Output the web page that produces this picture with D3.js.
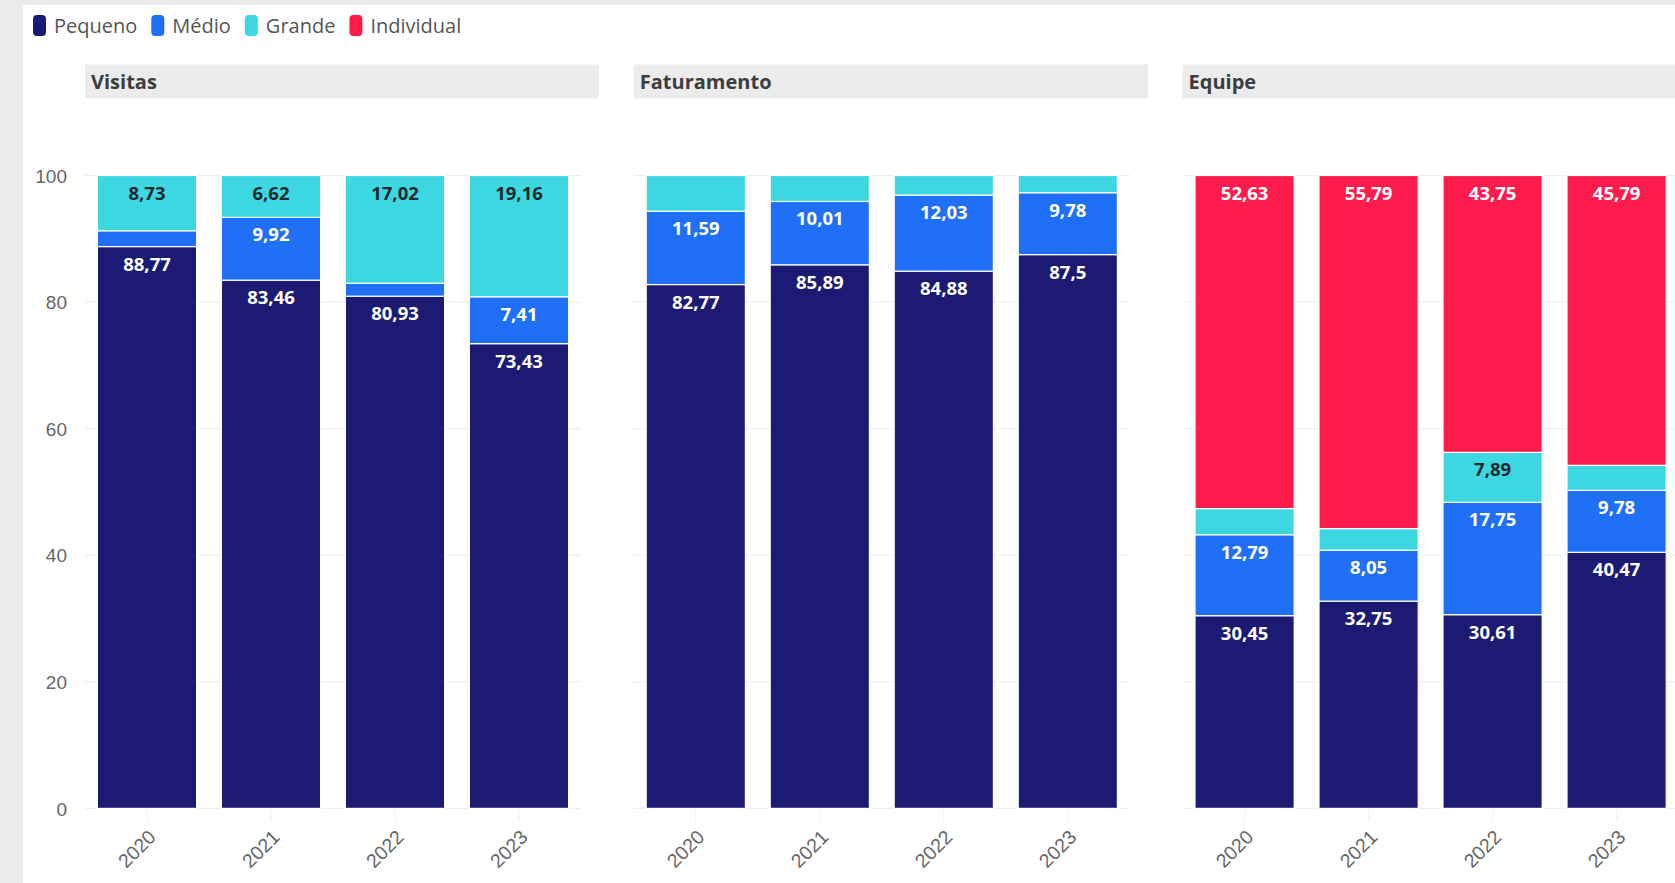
<!DOCTYPE html>
<html>
<head>
<meta charset="utf-8">
<script src="https://cdn.jsdelivr.net/npm/d3@7"></script>
<style>
  html, body { margin: 0; padding: 0; background: #ebebeb; overflow: hidden; }
  svg { display: block; font-family: "Open Sans", "Noto Sans", sans-serif; }
</style>
</head>
<body>
<svg id="chart" width="1675" height="883"></svg>
<script>
// Categories and series
const years = ["2020", "2021", "2022", "2023"];
const seriesNames = ["Pequeno", "Médio", "Grande", "Individual"];
const seriesColors = ["#1c1a73", "#1f6ff7", "#3cd7e1", "#ff1c4c"];
const panelTitles = ["Visitas", "Faturamento", "Equipe"];
const yTicks = [0, 20, 40, 60, 80, 100];

// Shares (%) per panel and size class
const visitasPequeno = [88.77, 83.46, 80.93, 73.43];
const visitasMedio = [2.50, 9.92, 2.05, 7.41];
const visitasGrande = [8.73, 6.62, 17.02, 19.16];
const visitasIndividual = [0, 0, 0, 0];

const faturamentoPequeno = [82.77, 85.89, 84.88, 87.5];
const faturamentoMedio = [11.59, 10.01, 12.03, 9.78];
const faturamentoGrande = [5.64, 4.10, 3.09, 2.72];
const faturamentoIndividual = [0, 0, 0, 0];

const equipePequeno = [30.45, 32.75, 30.61, 40.47];
const equipeMedio = [12.79, 8.05, 17.75, 9.78];
const equipeGrande = [4.13, 3.41, 7.89, 3.96];
const equipeIndividual = [52.63, 55.79, 43.75, 45.79];

const panelSeries = [
  [visitasPequeno, visitasMedio, visitasGrande, visitasIndividual],
  [faturamentoPequeno, faturamentoMedio, faturamentoGrande, faturamentoIndividual],
  [equipePequeno, equipeMedio, equipeGrande, equipeIndividual]
];

// Layout
const W = 1675, H = 883;
const panelLeft0 = 85, panelStep = 548.8, plotW = 496, stripW = 514;
const stripTop = 64.5, stripH = 34;
const labelMin = 6;

const svg = d3.select("#chart");
svg.append("rect").attr("width", W).attr("height", H).attr("fill", "#ebebeb");
svg.append("rect").attr("x", 23).attr("y", 5).attr("width", W - 23).attr("height", H - 5).attr("fill", "#ffffff");

const color = d3.scaleOrdinal().domain(seriesNames).range(seriesColors);
const y = d3.scaleLinear().domain([0, 100]).range([808.4, 175.5]);
const yBotVal = -1.9;
const x = d3.scaleBand().domain(years).range([0, plotW]).paddingInner(0.2).paddingOuter(0.1);

const fmt = v => String(v).replace(".", ",");

// Legend
const legend = svg.append("g").attr("class", "legend");
let lx = 33;
seriesNames.forEach(name => {
  const g = legend.append("g");
  g.append("rect").attr("x", lx).attr("y", 15).attr("width", 13).attr("height", 21)
    .attr("rx", 4).attr("fill", color(name));
  const t = g.append("text").attr("x", lx + 21).attr("y", 33)
    .attr("font-size", 20).attr("fill", "#555").text(name);
  lx += 21 + t.node().getComputedTextLength() + 14;
});

panelTitles.forEach((title, pi) => {
  const left = panelLeft0 + pi * panelStep;
  const g = svg.append("g").attr("transform", `translate(${left},0)`);

  // strip
  g.append("rect").attr("x", 0).attr("y", stripTop).attr("width", stripW).attr("height", stripH)
    .attr("fill", "#ececec");
  g.append("text").attr("x", 6).attr("y", stripTop + 24).attr("font-size", 20)
    .attr("font-weight", 700).attr("fill", "#3d3d3d").text(title);

  // horizontal grid
  g.append("g").selectAll("line").data(yTicks).join("line")
    .attr("x1", 0).attr("x2", plotW)
    .attr("y1", d => y(d)).attr("y2", d => y(d))
    .attr("stroke", "#ececec").attr("stroke-width", 1);

  // vertical grid at categories
  g.append("g").selectAll("line").data(years).join("line")
    .attr("x1", d => x(d) + x.bandwidth() / 2).attr("x2", d => x(d) + x.bandwidth() / 2)
    .attr("y1", y(100)).attr("y2", y(yBotVal))
    .attr("stroke", "#f1f1f1").attr("stroke-width", 1);

  // stacked data
  const rows = years.map((yr, i) => {
    const r = { year: yr };
    seriesNames.forEach((s, si) => { r[s] = panelSeries[pi][si][i]; });
    return r;
  });
  const stacked = d3.stack().keys(seriesNames)(rows);

  const layers = g.append("g").selectAll("g").data(stacked).join("g")
    .attr("fill", d => color(d.key));

  layers.selectAll("rect").data(d => d.filter(s => s[1] - s[0] > 0)).join("rect")
    .attr("x", d => x(d.data.year))
    .attr("width", x.bandwidth())
    .attr("y", d => y(d[1]))
    .attr("height", d => y(d[0]) - y(d[1]))
    .attr("stroke", "#ffffff").attr("stroke-width", 1.2);

  // value labels near the top of each segment
  stacked.forEach(layer => {
    g.append("g").selectAll("text")
      .data(layer.filter(s => (s[1] - s[0]) >= labelMin))
      .join("text")
      .attr("x", d => x(d.data.year) + x.bandwidth() / 2)
      .attr("y", d => y(d[1]) + 24)
      .attr("text-anchor", "middle")
      .attr("font-size", 18.5).attr("font-weight", 700)
      .attr("fill", layer.key === "Grande" ? "#1f2a2e" : "#ffffff")
      .text(d => fmt(d.data[layer.key]));
  });

  // x axis (rotated years)
  const xAxis = g.append("g").attr("transform", `translate(0,${y(0)})`)
    .call(d3.axisBottom(x).tickSize(0));
  xAxis.select(".domain").remove();
  xAxis.selectAll("text")
    .attr("font-family", null)
    .attr("font-size", 19.5).attr("fill", "#666")
    .attr("text-anchor", "end")
    .attr("dy", null).attr("y", 0)
    .attr("transform", "translate(10,30) rotate(-45)");

  // y axis on first panel only
  if (pi === 0) {
    const yAxis = g.append("g").attr("transform", "translate(-18,0)")
      .call(d3.axisLeft(y).tickValues(yTicks).tickSize(0).tickFormat(d3.format("d")));
    yAxis.select(".domain").remove();
    yAxis.selectAll("text")
      .attr("font-family", null)
      .attr("font-size", 19).attr("fill", "#666")
      .attr("x", 0).attr("dy", "0.35em");
  }
});
</script>
</body>
</html>
